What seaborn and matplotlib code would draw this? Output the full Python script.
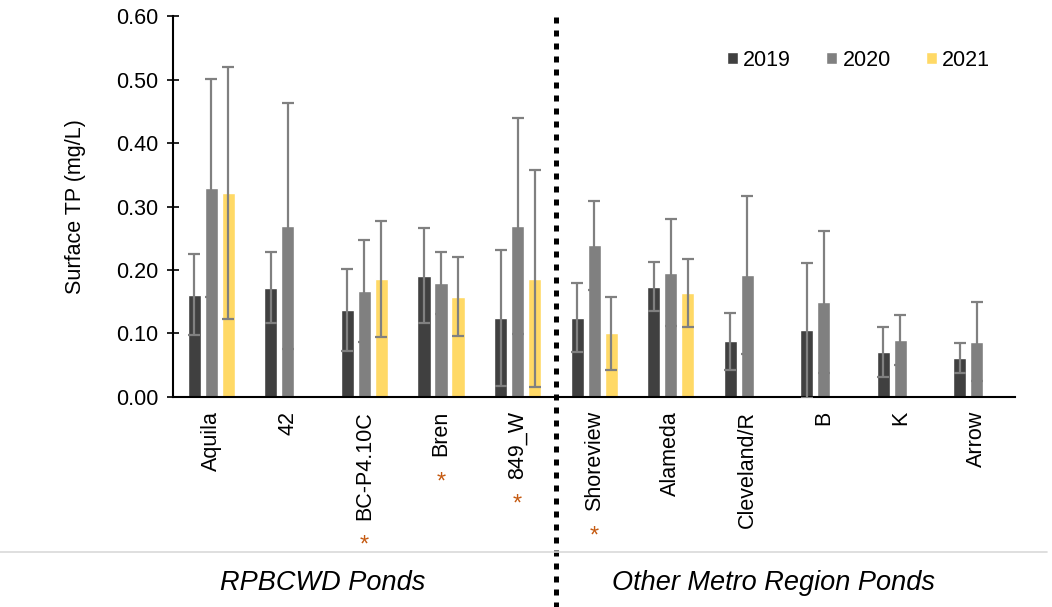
import numpy as np
import pandas as pd
import seaborn as sns
import matplotlib.pyplot as plt
from matplotlib.lines import Line2D

sns.set_theme(style="white")
plt.rcParams["font.family"] = ["Liberation Sans", "DejaVu Sans"]
plt.rcParams["text.color"] = "black"
plt.rcParams["axes.labelcolor"] = "black"
plt.rcParams["xtick.color"] = "black"
plt.rcParams["ytick.color"] = "black"

ponds = ["Aquila", "42", "BC-P4.10C", "Bren", "849_W",
         "Shoreview", "Alameda", "Cleveland/R", "B", "K", "Arrow"]
years = ["2019", "2020", "2021"]
flagged = ["BC-P4.10C", "Bren", "849_W", "Shoreview"]

tp_2019 = [0.161, 0.172, 0.137, 0.191, 0.125, 0.125, 0.174, 0.088, 0.105, 0.071, 0.061]
tp_2020 = [0.329, 0.269, 0.167, 0.180, 0.269, 0.239, 0.196, 0.192, 0.150, 0.090, 0.087]
tp_2021 = [0.321, np.nan, 0.186, 0.158, 0.186, 0.100, 0.164, np.nan, np.nan, np.nan, np.nan]

sd_2019 = [0.064, 0.056, 0.064, 0.075, 0.107, 0.054, 0.038, 0.045, 0.106, 0.040, 0.024]
sd_2020 = [0.172, 0.194, 0.080, 0.049, 0.170, 0.070, 0.084, 0.124, 0.112, 0.039, 0.062]
sd_2021 = [0.198, np.nan, 0.091, 0.062, 0.171, 0.057, 0.053, np.nan, np.nan, np.nan, np.nan]

groups = ["RPBCWD Ponds", "Other Metro Region Ponds"]

colors = ["#404040", "#808080", "#FFD966"]

rows = []
for y, vals, sds in zip(years, [tp_2019, tp_2020, tp_2021], [sd_2019, sd_2020, sd_2021]):
    for p, v, s in zip(ponds, vals, sds):
        rows.append({"pond": p, "year": y, "tp": v, "sd": s})
df = pd.DataFrame(rows)
sd_lookup = {(r.pond, r.year): r.sd for r in df.itertuples()}

fig = plt.figure(figsize=(10.52, 6.07), dpi=100)
ax = fig.add_axes([0.1645, 0.346, 0.8005, 0.6276])

sns.barplot(data=df.dropna(subset=["tp"]), x="pond", y="tp", hue="year",
            order=ponds, hue_order=years, palette=colors,
            errorbar=None, width=0.667, gap=0.23, saturation=1, ax=ax)

# error bars at the bar centres seaborn produced
for year, cont in zip(years, ax.containers):
    for bar in cont:
        xc = bar.get_x() + bar.get_width() / 2
        pond = ponds[int(round(xc))]
        ax.errorbar(xc, bar.get_height(), yerr=sd_lookup[(pond, year)],
                    color="#808080", lw=1.6, capsize=4.5, capthick=1.6, zorder=3)

ax.set_xlim(-0.5, len(ponds) - 0.5)
ax.set_ylim(0, 0.6)
ax.set_yticks(np.arange(0, 0.61, 0.1))
ax.set_yticklabels([f"{v:.2f}" for v in np.arange(0, 0.61, 0.1)])
ax.set_ylabel("Surface TP (mg/L)", fontsize=15.5, labelpad=22)
ax.set_xlabel("")
ax.tick_params(axis="y", direction="inout", length=9, width=1.2, labelsize=15.5, pad=6, left=True)
ax.tick_params(axis="x", length=0, labelsize=15.5, pad=10, labelrotation=90)
for s in ["top", "right"]:
    ax.spines[s].set_visible(False)
for s in ["left", "bottom"]:
    ax.spines[s].set_color("black")
    ax.spines[s].set_linewidth(1.5)

ax.legend(loc="center", bbox_to_anchor=(0.814, 0.884), ncol=3, frameon=False,
          fontsize=15.5, handlelength=0.5, handleheight=0.5,
          handletextpad=0.25, columnspacing=1.65)

# dotted divider between the two pond groups
ax.axvline(4.5, ymin=-0.56, ymax=1.015, clip_on=False, color="black",
           lw=3.6, linestyle=(0, (1.2, 1.4)), dash_capstyle="butt", zorder=5)

# separator line and group labels
fig.add_artist(Line2D([0, 0.995], [1 - 552 / 607] * 2, color="#d9d9d9", lw=1.2))
fig.text(323 / 1052, 1 - 583 / 607, groups[0], style="italic", fontsize=19.5,
         ha="center", va="center")
fig.text(774 / 1052, 1 - 583 / 607, groups[1], style="italic", fontsize=19.5,
         ha="center", va="center")

# orange asterisks after the flagged pond names
fig.canvas.draw()
inv = fig.transFigure.inverted()
for lab in ax.get_xticklabels():
    if lab.get_text() in flagged:
        bb = lab.get_window_extent()
        xf, yf = inv.transform(((bb.x0 + bb.x1) / 2, bb.y0 - 26))
        fig.text(xf, yf, "*", color="#C55A11", fontsize=17, ha="center", va="center")

fig.savefig("out.png", dpi=100)
